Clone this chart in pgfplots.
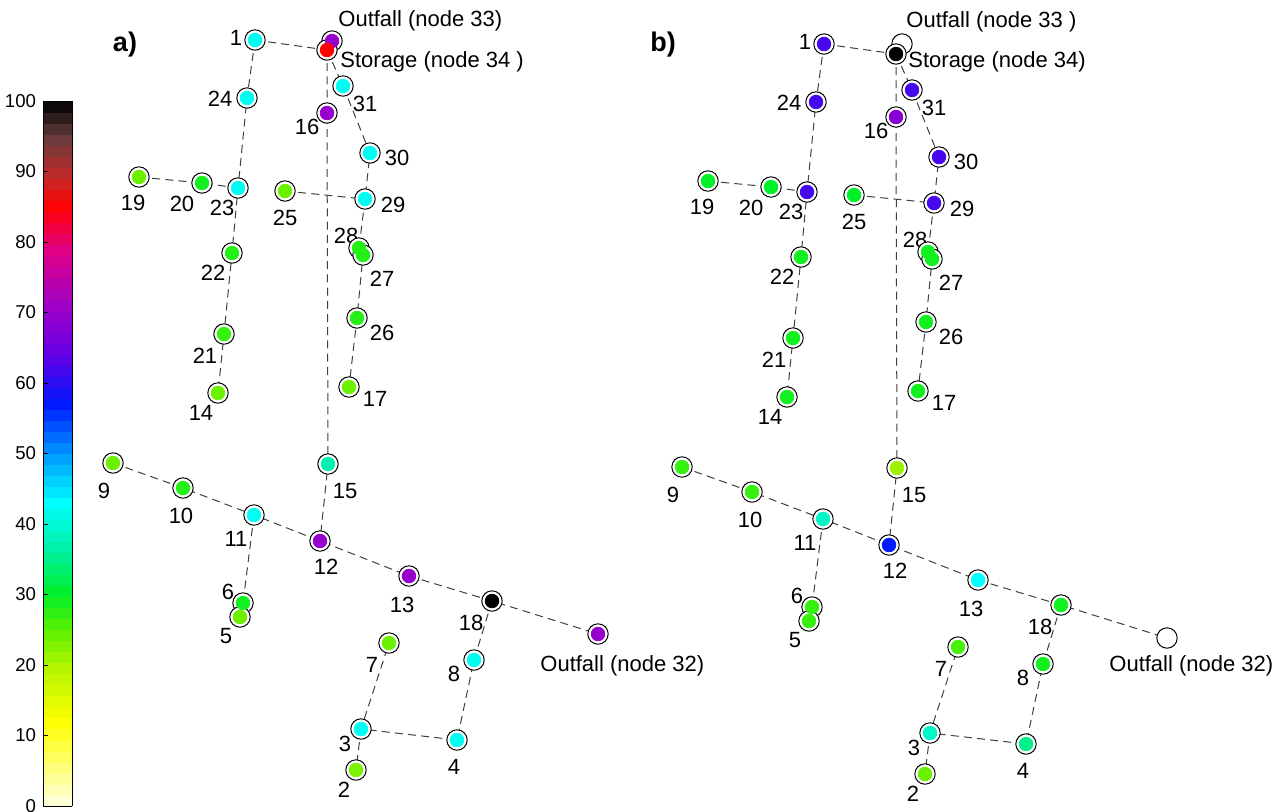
\documentclass[border=0pt]{standalone}
\usepackage{fontspec}
\setmainfont{Liberation Sans}
\usepackage{pgfplots}
\pgfplotsset{compat=1.18}
\usepackage{pgfplotstable}

\pgfplotsset{
 colormap={pond}{rgb255(0)=(255,255,228) rgb255(12)=(255,255,0) rgb255(20)=(175,245,0)
 rgb255(25)=(90,240,0) rgb255(30)=(0,240,40) rgb255(36)=(0,240,160) rgb255(43)=(0,255,255)
 rgb255(50)=(0,150,255) rgb255(57)=(0,25,255) rgb255(64)=(100,0,230) rgb255(71)=(160,0,200)
 rgb255(79)=(225,0,130) rgb255(85)=(255,0,0) rgb255(89)=(200,40,40) rgb255(95)=(100,60,60)
 rgb255(100)=(0,0,0)}
}

% node id, x, y (pixel coordinates of panel a), value
\pgfplotstableread{
id x y c
1 255 40 42
24 247 98 42
23 238 188 42
22 232 253 28
21 224 334 27
14 218 393 24
19 139 177 24
20 202 183 29
25 285 191 24
31 343 86 42
16 327 113 70
30 370 153 42
29 365 199 42
28 359 248 28
27 363 255 28
26 357 318 28
17 349 387 24
15 328 464 37
9 113 463 24
10 183 488 28
11 254 515 42
12 320 541 70
13 409 576 70
18 492 601 100
32 598 634 70
6 243 603 29
5 240 617 24
7 389 643 24
8 474 660 42
3 361 729 42
4 457 740 42
2 356 770 23
33 332 41 70
34 327 50 85
}\nodesA

\pgfplotstableread{
id x y c
1 255 40 62
24 247 98 62
23 238 188 62
22 232 253 29
21 224 334 29
14 218 393 29
19 139 177 30
20 202 183 30
25 285 191 30
31 343 86 62
16 327 113 68
30 370 153 62
29 365 199 62
28 359 248 29
27 363 255 29
26 357 318 29
17 349 387 29
15 328 464 21
9 113 463 27
10 183 488 27
11 254 515 39
12 320 541 57
13 409 576 43
18 492 601 29
6 243 603 27
5 240 617 27
7 389 643 26
8 474 660 29
3 361 729 39
4 457 740 35
2 356 770 24
34 327 50 100
}\nodesB

\pgfplotstableread{
id x y
32 598 634
33 333 40
}\emptyB

% pipes (segments separated by nan)
\pgfplotstableread{
x y
255 40
327 50
332 41
nan nan
327 50
343 86
370 153
365 199
359 248
363 255
357 318
349 387
nan nan
255 40
247 98
238 188
232 253
224 334
218 393
nan nan
139 177
202 183
238 188
nan nan
285 191
365 199
nan nan
327 50
327 113
328 464
320 541
nan nan
113 463
183 488
254 515
320 541
409 576
492 601
598 634
nan nan
254 515
243 603
240 617
nan nan
492 601
474 660
457 740
361 729
389 643
nan nan
361 729
356 770
}\pipes

\pgfplotsset{
 panel/.style={
  at={(0pt,0pt)}, anchor=south west,
  scale only axis, width=643.5pt, height=405.5pt,
  y dir=reverse, hide axis, clip=false,
  colormap name=pond, point meta min=0, point meta max=100,
  unbounded coords=jump,
 },
}
\tikzset{lab/.style={font=\fontsize{11}{13}\selectfont, inner sep=0pt}}

\newcommand{\drawnet}[1]{%
 \addplot[black!75, line width=0.5pt, dash pattern=on 4pt off 2.6pt] table[x=x,y=y] {\pipes};
 \addplot[only marks, mark=*, mark size=5.1pt, mark options={fill=white, draw=black, line width=0.5pt}] table[x=x,y=y] {#1};
 \addplot[scatter, only marks, mark=*, mark size=3.4pt, scatter src=explicit,
   scatter/use mapped color={draw=mapped color, fill=mapped color}] table[x=x,y=y,meta=c] {#1};
}

\newcommand{\numlabels}{%
 \node[lab] at (axis cs:236,38) {1};
 \node[lab] at (axis cs:220,99) {24};
 \node[lab] at (axis cs:222,208) {23};
 \node[lab] at (axis cs:213,273) {22};
 \node[lab] at (axis cs:205,356) {21};
 \node[lab] at (axis cs:201,413) {14};
 \node[lab] at (axis cs:133,203) {19};
 \node[lab] at (axis cs:182,204) {20};
 \node[lab] at (axis cs:285,218) {25};
 \node[lab] at (axis cs:365,104) {31};
 \node[lab] at (axis cs:307,127) {16};
 \node[lab] at (axis cs:397,158) {30};
 \node[lab] at (axis cs:393,205) {29};
 \node[lab] at (axis cs:346,236) {28};
 \node[lab] at (axis cs:382,279) {27};
 \node[lab] at (axis cs:382,333) {26};
 \node[lab] at (axis cs:375,399) {17};
 \node[lab] at (axis cs:345,491) {15};
 \node[lab] at (axis cs:104,491) {9};
 \node[lab] at (axis cs:181,516) {10};
 \node[lab] at (axis cs:236,539) {11};
 \node[lab] at (axis cs:326,567) {12};
 \node[lab] at (axis cs:402,605) {13};
 \node[lab] at (axis cs:471,623) {18};
 \node[lab] at (axis cs:228,592) {6};
 \node[lab] at (axis cs:226,636) {5};
 \node[lab] at (axis cs:372,665) {7};
 \node[lab] at (axis cs:454,674) {8};
 \node[lab] at (axis cs:345,744) {3};
 \node[lab] at (axis cs:454,767) {4};
 \node[lab] at (axis cs:344,790) {2};
}

\begin{document}
\begin{tikzpicture}
\useasboundingbox (0,0) rectangle (643.5pt,405.5pt);
\begin{axis}[panel, xmin=0, xmax=1287, ymin=0, ymax=811,
  colorbar sampled,
  colorbar style={
    samples=65,
    at={(parent axis.south west)}, anchor=south west, xshift=13pt, yshift=2.5pt,
    scale only axis, width=14.5pt, height=352.5pt,
    ytick={0,10,...,100}, yticklabel pos=left, ytick pos=left,
    tick align=inside, major tick length=2.5pt,
    tick style={black, line width=0.4pt},
    axis line style={black, line width=0.5pt},
    yticklabel style={font=\fontsize{9.3}{11}\selectfont, /pgf/number format/assume math mode=true},
  }]
 \drawnet{\nodesA}
 \numlabels
 \node[lab, anchor=west] at (axis cs:338,21) {Outfall (node 33)};
 \node[lab, anchor=west] at (axis cs:340,62) {Storage (node 34 )};
 \node[lab, anchor=west] at (axis cs:540,666) {Outfall (node 32)};
 \node[font=\fontsize{13.5}{15}\selectfont\bfseries, inner sep=0pt] at (axis cs:125,45) {a)};
\end{axis}
\begin{axis}[panel, xmin=-569, xmax=718, ymin=-4, ymax=807]
 \addplot[only marks, mark=*, mark size=5.1pt, mark options={fill=white, draw=black, line width=0.5pt}] table[x=x,y=y] {\emptyB};
 \drawnet{\nodesB}
 \numlabels
 \node[lab, anchor=west] at (axis cs:337,18) {Outfall (node 33 )};
 \node[lab, anchor=west] at (axis cs:339,58) {Storage (node 34)};
 \node[lab, anchor=west] at (axis cs:540,662) {Outfall (node 32)};
 \node[font=\fontsize{13.5}{15}\selectfont\bfseries, inner sep=0pt] at (axis cs:94,41) {b)};
\end{axis}
\end{tikzpicture}
\end{document}
